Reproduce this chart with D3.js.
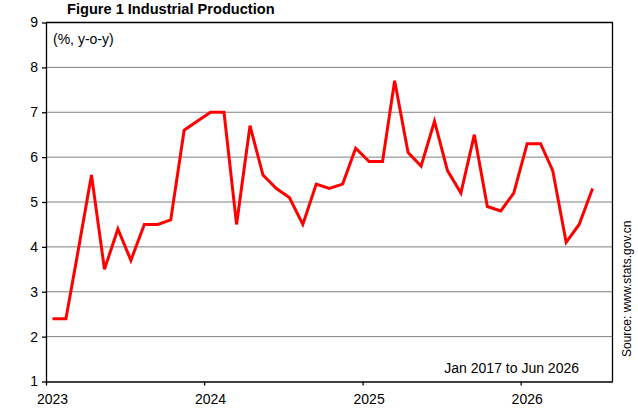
<!DOCTYPE html>
<html>
<head>
<meta charset="utf-8">
<script src="https://cdn.jsdelivr.net/npm/d3@7"></script>
<style>
  body { margin: 0; background: #fff; }
  text { font-family: "Liberation Sans", Arial, sans-serif; fill: #000; }
</style>
</head>
<body>
<svg id="chart" width="638" height="412"></svg>
<script>
// monthly y-o-y growth, Jan 2023 .. Jun 2026
const months = d3.range(42).map(i => new Date(2023, i, 16));
const values = [
  2.4, 2.4, 3.9, 5.6, 3.5, 4.4, 3.7, 4.5, 4.5, 4.6, 6.6, 6.8,
  7.0, 7.0, 4.5, 6.7, 5.6, 5.3, 5.1, 4.5, 5.4, 5.3, 5.4, 6.2,
  5.9, 5.9, 7.7, 6.1, 5.8, 6.8, 5.7, 5.2, 6.5, 4.9, 4.8, 5.2,
  6.3, 6.3, 5.7, 4.1, 4.5, 5.3
];
const yearTicks = [2023, 2024, 2025, 2026];
const yTicks = [1, 2, 3, 4, 5, 6, 7, 8, 9];

const margin = { top: 22.5, right: 25.5, bottom: 30.5, left: 46 };
const width = 638, height = 412;
const svg = d3.select("#chart");

const x = d3.scaleTime()
  .domain([new Date(2023, 0, 1), new Date(2026, 7, 1)])
  .range([margin.left, width - margin.right]);
const y = d3.scaleLinear()
  .domain([1, 9])
  .range([height - margin.bottom, margin.top]);

// gridlines
svg.append("g")
  .selectAll("line")
  .data(yTicks.slice(1, -1))
  .join("line")
  .attr("x1", margin.left).attr("x2", width - margin.right)
  .attr("y1", d => y(d)).attr("y2", d => y(d))
  .attr("stroke", "#808080").attr("stroke-width", 1);

// frame top/right
svg.append("path")
  .attr("d", `M${margin.left},${margin.top}H${width - margin.right}V${height - margin.bottom}`)
  .attr("fill", "none").attr("stroke", "#000").attr("stroke-width", 1.3);

const yAxis = svg.append("g")
  .attr("transform", `translate(${margin.left},0)`)
  .call(d3.axisLeft(y).tickValues(yTicks).tickSize(4).tickSizeOuter(0).tickPadding(6));

const xAxis = svg.append("g")
  .attr("transform", `translate(0,${height - margin.bottom})`)
  .call(d3.axisBottom(x)
    .tickValues(yearTicks.map(yr => new Date(yr, 0, 1)))
    .tickFormat(d3.timeFormat("%Y"))
    .tickSize(4).tickSizeOuter(0).tickPadding(5));

[yAxis, xAxis].forEach(a => {
  a.select(".domain").attr("stroke", "#000").attr("stroke-width", 1.3);
  a.selectAll(".tick line").attr("stroke", "#000").attr("stroke-width", 1.3);
  a.selectAll(".tick text")
    .attr("font-size", 14)
    .attr("font-family", "Liberation Sans, Arial, sans-serif")
    .attr("fill", "#000");
});
yAxis.selectAll(".tick text").attr("dx", "2");
xAxis.selectAll(".tick text").attr("dx", "6").attr("dy", "0.95em");

// series
const line = d3.line()
  .x((d, i) => x(months[i]))
  .y(d => y(d));

svg.append("path")
  .datum(values)
  .attr("d", line)
  .attr("fill", "none")
  .attr("stroke", "#ff0000")
  .attr("stroke-width", 3)
  .attr("stroke-linejoin", "miter");

// texts
svg.append("text")
  .attr("x", 67).attr("y", 14)
  .attr("font-size", 14.6).attr("font-weight", "bold")
  .text("Figure 1 Industrial Production");

svg.append("text")
  .attr("x", 53).attr("y", 44)
  .attr("font-size", 14)
  .text("(%, y-o-y)");

svg.append("text")
  .attr("x", 579).attr("y", 373)
  .attr("text-anchor", "end")
  .attr("font-size", 14)
  .text("Jan 2017 to Jun 2026");

svg.append("text")
  .attr("transform", "translate(631,357) rotate(-90)")
  .attr("font-size", 12)
  .text("Source: www.stats.gov.cn");
</script>
</body>
</html>
